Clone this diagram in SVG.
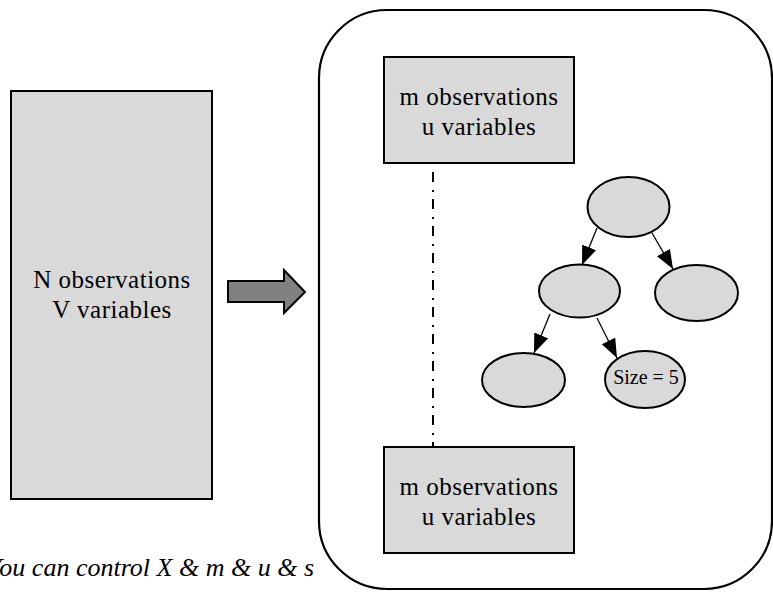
<svg xmlns="http://www.w3.org/2000/svg" width="773" height="592" viewBox="0 0 773 592">
  <style>
    .box { fill: #d9d9d9; stroke: #000; stroke-width: 2; }
    .oval { fill: #d9d9d9; stroke: #000; stroke-width: 2; }
    .edge { stroke: #000; stroke-width: 1.3; fill: none; }
  </style>
  <defs>
    <marker id="ah" markerUnits="userSpaceOnUse" markerWidth="20" markerHeight="16" refX="19" refY="7.5" orient="auto">
      <path d="M0,0 L19,7.5 L0,15 z" fill="#000"/>
    </marker>
  </defs>
  <rect width="773" height="592" fill="#fff"/>

  <g id="full-data">
    <rect class="box" x="11" y="91" width="201" height="408"/>
    <g font-family="Liberation Serif, Times New Roman, serif" font-size="25" letter-spacing="0.5" text-anchor="middle" fill="#000">
      <text x="112" y="288">N observations</text>
      <text x="112" y="318">V variables</text>
    </g>
  </g>

  <g id="big-arrow">
    <polygon points="228,281 284,281 284,270 305,292 284,313 284,302 228,302" fill="#808080" stroke="#000" stroke-width="2"/>
  </g>

  <g id="container">
    <rect x="319" y="10" width="453" height="579" rx="68" ry="68" fill="none" stroke="#000" stroke-width="2.2"/>
  </g>

  <g id="sample-top">
    <rect class="box" x="384" y="57" width="190" height="106"/>
    <g font-family="Liberation Serif, Times New Roman, serif" font-size="25" letter-spacing="0.5" text-anchor="middle" fill="#000">
      <text x="479" y="105">m observations</text>
      <text x="479" y="135">u variables</text>
    </g>
  </g>

  <g id="sample-bottom">
    <rect class="box" x="384" y="447" width="190" height="106"/>
    <g font-family="Liberation Serif, Times New Roman, serif" font-size="25" letter-spacing="0.5" text-anchor="middle" fill="#000">
      <text x="479" y="495">m observations</text>
      <text x="479" y="525">u variables</text>
    </g>
  </g>

  <g id="root"><ellipse class="oval" cx="628.5" cy="207" rx="41" ry="30"/></g>
  <g id="left-child"><ellipse class="oval" cx="579.5" cy="291" rx="40.5" ry="26.5"/></g>
  <g id="right-child"><ellipse class="oval" cx="696.5" cy="293" rx="41.5" ry="28"/></g>
  <g id="leaf-left"><ellipse class="oval" cx="523.5" cy="380" rx="41.5" ry="27"/></g>
  <g id="leaf-size5">
    <ellipse class="oval" cx="645" cy="379.5" rx="40" ry="28.5"/>
    <text x="646" y="384" font-family="Liberation Serif, Times New Roman, serif" font-size="20" text-anchor="middle" fill="#000">Size = 5</text>
  </g>

  <g id="connectors">
    <line x1="433" y1="172" x2="433" y2="446" stroke="#000" stroke-width="2" stroke-dasharray="10 8 2 7"/>
    <line class="edge" x1="597" y1="228" x2="582" y2="265" marker-end="url(#ah)"/>
    <line class="edge" x1="652" y1="233" x2="673" y2="269" marker-end="url(#ah)"/>
    <line class="edge" x1="550" y1="314" x2="534" y2="353" marker-end="url(#ah)"/>
    <line class="edge" x1="597" y1="318" x2="617" y2="358" marker-end="url(#ah)"/>
  </g>

  <g id="caption">
    <text x="314" y="576" font-family="Liberation Serif, Times New Roman, serif" font-size="26" font-style="italic" text-anchor="end" fill="#000">You can control X &amp; m &amp; u &amp; s</text>
  </g>
</svg>
